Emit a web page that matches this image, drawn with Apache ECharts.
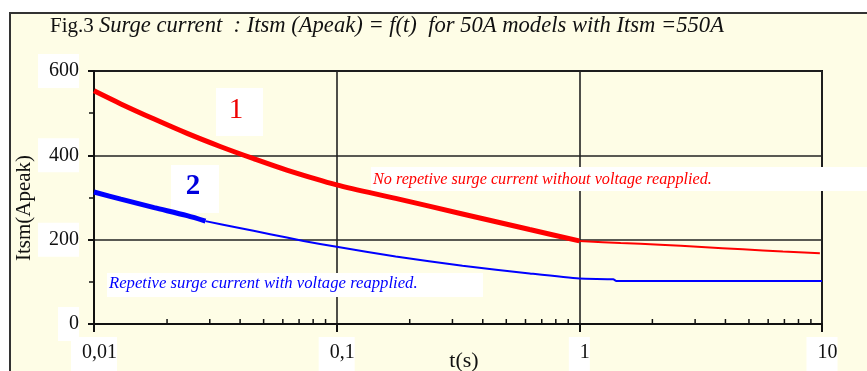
<!DOCTYPE html>
<html>
<head>
<meta charset="utf-8">
<script src="https://cdn.jsdelivr.net/npm/echarts@6/dist/echarts.min.js"></script>
<style>html,body{margin:0;padding:0;background:#fff}#c{width:867px;height:371px}</style>
</head>
<body>
<div id="c"></div>
<script>
// ---- data ----
const xTickLabels = {'-2': '0,01', '-1': '0,1', '0': '1', '1': '10'};
const yTicks = [0, 200, 400, 600];
const xMinorTicks = [0.02, 0.03, 0.04, 0.05, 0.06, 0.07, 0.08, 0.09,
                     0.2, 0.3, 0.4, 0.5, 0.6, 0.7, 0.8, 0.9,
                     2, 3, 4, 5, 6, 7, 8, 9];

// curve 1 (red) : non repetitive surge current
const redThickT = [0.01, 0.0129, 0.0177, 0.0242, 0.0331, 0.0455, 0.0623, 0.1, 0.175, 0.33, 0.624, 1];
const redThickV = [553, 522, 486, 452, 421, 392, 365, 330, 298, 261, 224, 197];
const redThinT  = [1, 1.48, 2.15, 3.19, 4.72, 6.9, 9.8];
const redThinV  = [197, 192, 188, 182.5, 177, 172, 168];

// curve 2 (blue) : repetitive surge current
const blueThickT = [0.01, 0.0129, 0.0177, 0.0242, 0.0288];
const blueThickV = [313, 296, 276, 257, 244];
const blueThinT  = [0.0288, 0.0388, 0.0532, 0.073, 0.1, 0.175, 0.33, 0.624, 1, 1.38, 1.42, 10];
const blueThinV  = [244, 229, 213, 197, 183, 160, 138, 120, 108, 106, 102, 102];

const titleMain = 'Fig.3 ';
const titleItalic = 'Surge current  : Itsm (Apeak) = f(t)  for 50A models with Itsm =550A';
const yName = 'Itsm(Apeak)';
const xName = 't(s)';
const label1 = '1';
const label2 = '2';
const text1 = 'No repetive surge current without voltage reapplied.';
const text2 = 'Repetive surge current with voltage reapplied.';

const zip = (a, b) => a.map((v, i) => [v, b[i]]);
const FONT = 'Liberation Serif';
const BG = '#fefde6';

const chart = echarts.init(document.getElementById('c'), null, {renderer: 'canvas'});
chart.setOption({
  backgroundColor: BG,
  animation: false,
  grid: {left: 94, right: 45, top: 71, bottom: 45, show: true, borderColor: '#111', borderWidth: 2, backgroundColor: 'transparent'},
  xAxis: {
    type: 'log', logBase: 10, min: 0.01, max: 10,
    axisLine: {lineStyle: {color: '#111', width: 2}},
    axisTick: {show: true, length: 8, lineStyle: {color: '#111', width: 2}},
    minorTick: {show: false},
    splitLine: {show: true, lineStyle: {color: '#222', width: 1.6}},
    axisLabel: {
      fontFamily: FONT, fontSize: 20, color: '#111', margin: 13,
      backgroundColor: '#fff', padding: [6, 0, 8, 11],
      formatter: v => xTickLabels[String(Math.round(Math.log10(v)))] || ''
    }
  },
  yAxis: {
    type: 'value', min: 0, max: 600, interval: 200,
    axisLine: {show: true, lineStyle: {color: '#111', width: 2}},
    axisTick: {show: true, length: 6, lineStyle: {color: '#111', width: 2}},
    minorTick: {show: true, splitNumber: 2, length: 5, lineStyle: {color: '#111', width: 1.5}},
    splitLine: {show: true, lineStyle: {color: '#222', width: 1.6}},
    axisLabel: {
      fontFamily: FONT, fontSize: 20, color: '#111', margin: 15,
      backgroundColor: '#fff', padding: [7, 0, 7, 11],
      formatter: v => yTicks.includes(v) ? String(v) : ''
    }
  },
  series: [
    {type: 'line', data: zip(redThickT, redThickV), showSymbol: false, smooth: 0.3, lineStyle: {color: '#f00', width: 5}, z: 15},
    {type: 'line', data: zip(redThinT, redThinV), showSymbol: false, smooth: 0.3, lineStyle: {color: '#f00', width: 2}, z: 15},
    {type: 'line', data: zip(blueThickT, blueThickV), showSymbol: false, smooth: 0.3, lineStyle: {color: '#00f', width: 5}, z: 15},
    {type: 'line', data: zip(blueThinT, blueThinV), showSymbol: false, smooth: 0.2, lineStyle: {color: '#00f', width: 2}, z: 15},
    {
      type: 'custom', silent: true, clip: false, z: 5,
      data: xMinorTicks.map(v => [v, 0]),
      renderItem: (params, api) => {
        const p = api.coord([api.value(0), 0]);
        return {type: 'line', shape: {x1: p[0], y1: p[1], x2: p[0], y2: p[1] - 5},
                style: {stroke: '#111', lineWidth: 1.5}};
      }
    }
  ],
  graphic: [
    {type: 'rect', shape: {x: 0, y: 0, width: 867, height: 12}, style: {fill: '#fff'}, z: 20},
    {type: 'rect', shape: {x: 0, y: 0, width: 9, height: 371}, style: {fill: '#fff'}, z: 20},
    {type: 'line', shape: {x1: 9, y1: 13, x2: 867, y2: 13}, style: {stroke: '#333', lineWidth: 2}, z: 21},
    {type: 'line', shape: {x1: 10, y1: 12, x2: 10, y2: 371}, style: {stroke: '#333', lineWidth: 2}, z: 21},
    {type: 'text', x: 50, y: 26, z: 21, style: {
      text: '{a|' + titleMain + '}{b|' + titleItalic + '}', verticalAlign: 'middle', align: 'left',
      rich: {a: {fontFamily: FONT, fontSize: 21, fill: '#111'}, b: {fontFamily: FONT, fontSize: 22.6, fontStyle: 'italic', fill: '#111'}}
    }},
    {type: 'text', x: 24, y: 208, rotation: Math.PI / 2, z: 21, style: {
      text: yName, fontFamily: FONT, fontSize: 21, fill: '#111', align: 'center', verticalAlign: 'middle'}},
    {type: 'text', x: 464, y: 361, z: 21, style: {
      text: xName, fontFamily: FONT, fontSize: 22, fill: '#111', align: 'center', verticalAlign: 'middle'}},
    {type: 'rect', shape: {x: 216, y: 88, width: 47, height: 48}, style: {fill: '#fff'}, z: 10},
    {type: 'text', x: 236, y: 110, z: 11, style: {text: label1, fontFamily: FONT, fontSize: 29, fill: '#e00', align: 'center', verticalAlign: 'middle'}},
    {type: 'rect', shape: {x: 171, y: 165, width: 48, height: 48}, style: {fill: '#fff'}, z: 10},
    {type: 'text', x: 193, y: 187, z: 11, style: {text: label2, fontFamily: FONT, fontSize: 29, fontWeight: 'bold', fill: '#0000dd', align: 'center', verticalAlign: 'middle'}},
    {type: 'rect', shape: {x: 371, y: 167, width: 496, height: 24}, style: {fill: '#fff'}, z: 10},
    {type: 'text', x: 373, y: 180, z: 11, style: {text: text1, fontFamily: FONT, fontSize: 16.2, fontStyle: 'italic', fill: '#f00', align: 'left', verticalAlign: 'middle'}},
    {type: 'rect', shape: {x: 107, y: 273, width: 376, height: 24}, style: {fill: '#fff'}, z: 10},
    {type: 'text', x: 109, y: 284, z: 11, style: {text: text2, fontFamily: FONT, fontSize: 16.7, fontStyle: 'italic', fill: '#00f', align: 'left', verticalAlign: 'middle'}}
  ]
});
</script>
</body>
</html>
